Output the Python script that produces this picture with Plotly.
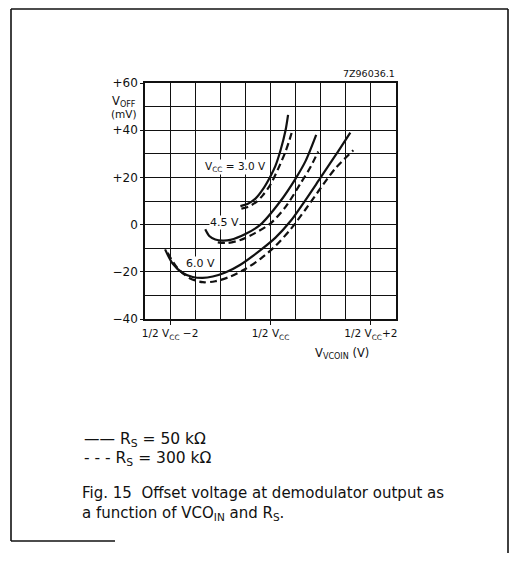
import plotly.graph_objects as go

# ---- data (x: V relative to 1/2 Vcc, y: offset voltage in mV) ----
vcc30_solid_x = [-0.60, -0.45, -0.30, -0.15, 0.00, 0.10, 0.20, 0.30, 0.35]
vcc30_solid_y = [7.8, 8.8, 11.0, 15.0, 20.5, 25.0, 31.5, 40.0, 46.5]
vcc30_dash_x = [-0.58, -0.45, -0.30, -0.15, 0.00, 0.15, 0.30, 0.38, 0.43]
vcc30_dash_y = [6.8, 7.5, 9.3, 12.5, 17.0, 23.5, 31.0, 36.0, 39.5]

vcc45_solid_x = [-1.30, -1.22, -1.10, -0.95, -0.80, -0.50, -0.20, 0.20, 0.50, 0.70, 0.91]
vcc45_solid_y = [-2.0, -4.8, -6.3, -6.8, -6.5, -4.0, 0.0, 10.0, 19.5, 27.0, 38.0]
vcc45_dash_x = [-1.05, -0.85, -0.60, -0.30, 0.00, 0.30, 0.60, 0.80, 0.95]
vcc45_dash_y = [-7.5, -7.8, -6.5, -3.5, 0.5, 7.5, 17.5, 24.5, 31.0]

vcc60_solid_x = [-2.10, -1.95, -1.75, -1.55, -1.35, -1.15, -0.90, -0.60, -0.20, 0.10, 0.40, 0.70, 1.00, 1.30, 1.59]
vcc60_solid_y = [-10.5, -16.5, -20.5, -22.2, -22.6, -22.0, -20.3, -17.0, -10.8, -5.5, 1.5, 10.5, 20.0, 29.5, 39.0]
vcc60_dash_x = [-2.05, -1.85, -1.60, -1.35, -1.10, -0.80, -0.50, -0.20, 0.10, 0.40, 0.70, 1.00, 1.30, 1.65]
vcc60_dash_y = [-12.0, -18.5, -22.8, -24.4, -24.0, -22.0, -18.8, -14.5, -9.0, -2.0, 6.5, 15.5, 24.0, 31.5]

y_tickvals = [-40, -20, 0, 20, 40, 60]
y_ticktext = ["\u221240", "\u221220", "0", "+20", "+40", "+60"]
x_tickvals = [-2, 0, 2]
x_ticktext = ["1/2 V<sub>CC</sub> \u22122", "1/2 V<sub>CC</sub>", "1/2 V<sub>CC</sub>+2"]

# ---- layout geometry (page pixel coordinates; page body has an 8px margin) ----
OFF = 8
W, H = 517 - 2 * OFF, 562 - 2 * OFF
L, R, T, B = 145, 396, 83, 319


def px(xp):
    return (xp - L) / (R - L)


def py(yp):
    return (B - yp) / (B - T)


INK = "#111111"
FONT = "DejaVu Sans"

fig = go.Figure()
series = [
    (vcc30_solid_x, vcc30_solid_y, "solid"),
    (vcc30_dash_x, vcc30_dash_y, "dash"),
    (vcc45_solid_x, vcc45_solid_y, "solid"),
    (vcc45_dash_x, vcc45_dash_y, "dash"),
    (vcc60_solid_x, vcc60_solid_y, "solid"),
    (vcc60_dash_x, vcc60_dash_y, "dash"),
]
for xs, ys, dash in series:
    fig.add_trace(go.Scatter(
        x=xs, y=ys, mode="lines",
        line=dict(color=INK, width=2.2, dash=("7px,4px" if dash == "dash" else "solid"),
                  shape="spline", smoothing=0.8),
        showlegend=False, hoverinfo="skip"))

fig.update_xaxes(
    range=[-2.5, 2.5], tickvals=x_tickvals, ticktext=x_ticktext,
    showgrid=True, gridcolor=INK, gridwidth=1.4,
    minor=dict(dtick=0.5, tick0=0, showgrid=True, gridcolor=INK, gridwidth=1.4),
    showline=True, linecolor=INK, linewidth=1.6, mirror=True,
    ticks="outside", ticklen=4, tickcolor=INK, tickwidth=1.3,
    tickfont=dict(family=FONT, size=10.5, color=INK), zeroline=False)
fig.update_yaxes(
    range=[-40, 60], tickvals=y_tickvals, ticktext=y_ticktext,
    showgrid=True, gridcolor=INK, gridwidth=1.4,
    minor=dict(dtick=10, tick0=0, showgrid=True, gridcolor=INK, gridwidth=1.4),
    showline=True, linecolor=INK, linewidth=1.6, mirror=True,
    ticks="outside", ticklen=3, tickcolor=INK, tickwidth=1.3,
    tickfont=dict(family=FONT, size=12, color=INK), zeroline=False)

ann = []


def text(x, y, s, size=11, xanchor="center", yanchor="middle", align="left", bg=None):
    a = dict(x=px(x), y=py(y), xref="paper", yref="paper", text=s,
             showarrow=False, xanchor=xanchor, yanchor=yanchor, align=align,
             font=dict(family=FONT, size=size, color=INK))
    if bg:
        a.update(bgcolor=bg, borderpad=0)
    ann.append(a)


text(124, 101, "V<sub>OFF</sub>", 11.5)
text(124, 114, "(mV)", 10.5)
text(397, 81, "7Z96036.1", 9.5, xanchor="right", yanchor="bottom")
text(342, 353, "V<sub>VCOIN</sub> (V)", 11.5)
text(235, 167, "V<sub>CC</sub> = 3.0 V", 10.5, bg="white")
text(224, 222, "4.5 V", 11, bg="white")
text(200, 263, "6.0 V", 11, bg="white")
text(82, 440, "\u2014\u2014 R<sub>S</sub> = 50 k\u03a9", 15.5, xanchor="left")
text(82, 459, "- - - R<sub>S</sub> = 300 k\u03a9", 15.5, xanchor="left")
text(80, 503, "Fig. 15  Offset voltage at demodulator output as<br>a function of VCO<sub>IN</sub> and R<sub>S</sub>.",
     15, xanchor="left", yanchor="middle", align="left")

shapes = []
for x0, y0, x1, y1 in [(11, 9, 508, 9), (11, 9, 11, 541), (508, 9, 508, 553), (11, 541, 115, 541)]:
    shapes.append(dict(type="line", xref="paper", yref="paper",
                       x0=px(x0), y0=py(y0), x1=px(x1), y1=py(y1),
                       line=dict(color=INK, width=1.6)))

fig.update_layout(
    width=W, height=H,
    margin=dict(l=L - OFF, r=W - (R - OFF), t=T - OFF, b=H - (B - OFF)),
    paper_bgcolor="white", plot_bgcolor="white",
    annotations=ann, shapes=shapes)

fig.write_html("out.html")
